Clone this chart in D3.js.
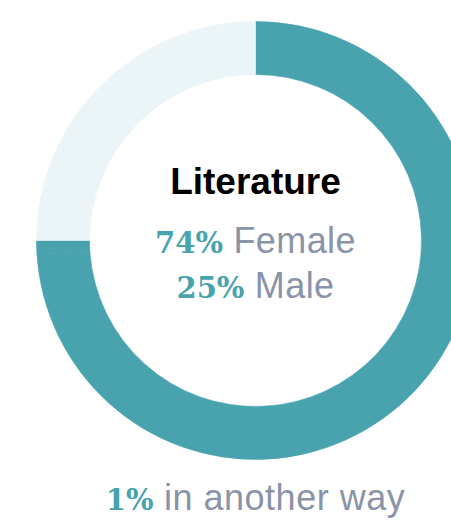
<!DOCTYPE html>
<html>
<head>
<meta charset="utf-8">
<script src="https://cdn.jsdelivr.net/npm/d3@7"></script>
<style>
  html, body { margin: 0; padding: 0; background: #ffffff; }
  svg { display: block; }
</style>
</head>
<body>
<svg id="chart" width="451" height="520"></svg>
<script>
// Data
const categories = ["Female", "In another way", "Male"];
const values = [74, 1, 25];
const colors = ["#48a3ae", "#48a3ae", "#ebf5f7"];
const title = "Literature";
const labelLines = [
  { pct: "74%", text: "Female" },
  { pct: "25%", text: "Male" }
];
const footnote = { pct: "1%", text: "in another way" };

const svg = d3.select("#chart");
const cx = 255.5, cy = 240.5;
const outerR = 219, innerR = 166;

const pie = d3.pie().sort(null).value(d => d.value);
const arc = d3.arc().innerRadius(innerR).outerRadius(outerR);
const data = categories.map((c, i) => ({ cat: c, value: values[i], color: colors[i] }));

const g = svg.append("g").attr("transform", `translate(${cx},${cy})`);
g.selectAll("path")
  .data(pie(data))
  .join("path")
  .attr("d", arc)
  .attr("fill", d => d.data.color)
  .attr("stroke", d => d.data.color)
  .attr("stroke-width", 0.6);

// Center title
svg.append("text")
  .attr("x", cx).attr("y", 194)
  .attr("text-anchor", "middle")
  .attr("font-family", "'Liberation Sans', Arial, sans-serif")
  .attr("font-weight", "bold")
  .attr("font-size", 37)
  .attr("fill", "#000")
  .text(title);

const lineY = [253, 298];
labelLines.forEach((l, i) => {
  const t = svg.append("text")
    .attr("x", cx).attr("y", lineY[i])
    .attr("text-anchor", "middle");
  t.append("tspan")
    .attr("font-family", "'DejaVu Serif', Georgia, serif")
    .attr("font-weight", "bold")
    .attr("font-size", 29)
    .attr("fill", "#48a3ae")
    .text(l.pct);
  t.append("tspan")
    .attr("font-family", "'Liberation Sans', Arial, sans-serif")
    .attr("font-size", 36)
    .attr("letter-spacing", 0.4)
    .attr("fill", "#8a93a8")
    .text(" " + l.text);
});

const f = svg.append("text")
  .attr("x", cx).attr("y", 510)
  .attr("text-anchor", "middle");
f.append("tspan")
  .attr("font-family", "'DejaVu Serif', Georgia, serif")
  .attr("font-weight", "bold")
  .attr("font-size", 29)
  .attr("fill", "#48a3ae")
  .text(footnote.pct);
f.append("tspan")
  .attr("font-family", "'Liberation Sans', Arial, sans-serif")
  .attr("font-size", 36)
  .attr("letter-spacing", 0.5)
  .attr("fill", "#8a93a8")
  .text(" " + footnote.text);
</script>
</body>
</html>
